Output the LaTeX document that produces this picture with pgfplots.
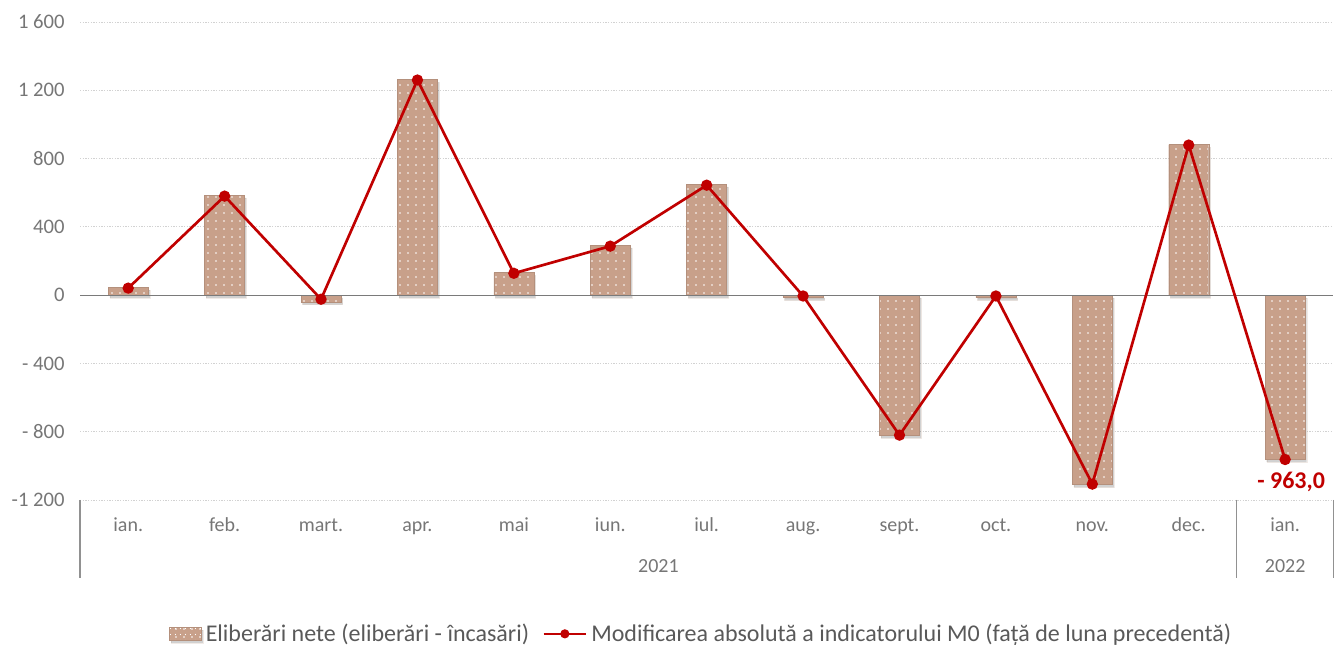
\documentclass[border=0pt]{standalone}
\usepackage{pgfplots}
\pgfplotsset{compat=1.18}
\usepackage{fontspec}
\setmainfont{Carlito}
\usetikzlibrary{patterns.meta,shadows}
\definecolor{barc}{RGB}{200,160,138}
\definecolor{linec}{RGB}{192,0,0}
\definecolor{tickc}{RGB}{118,118,118}
\definecolor{legc}{RGB}{89,89,89}
\definecolor{gridc}{RGB}{210,210,210}
\begin{document}
\begin{tikzpicture}[x=1pt,y=1pt]
\useasboundingbox (0,0) rectangle (1001.25,483.75);
\begin{axis}[
  at={(60pt,108.75pt)}, anchor=south west,
  scale only axis, width=940pt, height=358.5pt,
  xmin=-0.5, xmax=12.5, ymin=-1200, ymax=1600,
  axis line style={draw=none},
  tick style={draw=none},
  ytick={-1200,-800,-400,0,400,800,1200,1600},
  yticklabels={-1 200,- 800,- 400,0,400,800,1 200,1 600},
  xtick={0,1,2,3,4,5,6,7,8,9,10,11,12},
  xticklabels={ian.,feb.,mart.,apr.,mai,iun.,iul.,aug.,sept.,oct.,nov.,dec.,ian.},
  ymajorgrids,
  grid style={gridc, dash pattern=on 1pt off 1pt, line width=0.6pt},
  xticklabel style={font=\fontsize{15}{17}\selectfont, text=tickc, yshift=-9pt,
    text height=11pt, text depth=3pt},
  yticklabel style={font=\fontsize{15.5}{17}\selectfont, text=tickc, xshift=-8pt},
  clip=false,
  legend style={at={(0.496,-0.28)}, anchor=center, draw=none, fill=none,
    legend columns=2, font=\fontsize{18}{20}\selectfont, text=legc,
    /tikz/every even column/.append style={column sep=8pt},
    /tikz/every odd column/.append style={column sep=1pt}},
  legend cell align=left,
]
\addplot[ybar, bar width=30pt, draw=barc!90!black, line width=0.3pt, fill=barc,
  postaction={pattern={Dots[distance=6pt, radius=0.6pt]}, pattern color=white},
  drop shadow={shadow xshift=1.2pt, shadow yshift=-2pt, opacity=0.18, fill=black},
  legend image code/.code={\draw[barc!90!black, line width=0.3pt, fill=barc,
     postaction={pattern={Dots[distance=4pt, radius=0.5pt]}, pattern color=white}]
     (0pt,-5pt) rectangle (24pt,5pt);}]
coordinates {(0,45) (1,585) (2,-40) (3,1262) (4,132) (5,292) (6,650) (7,-15) (8,-822) (9,-15) (10,-1110) (11,882) (12,-963)};
\addlegendentry{Eliberări nete (eliberări - încasări)}
\draw[legc!80, line width=0.8pt] (axis cs:-0.5,0) -- (axis cs:12.5,0);
\addplot[linec, line width=2pt, mark=*, mark size=3.2pt, mark options={fill=linec, draw=linec},
  legend image code/.code={\draw[linec, line width=1.6pt, mark=*, mark size=2.6pt, mark options={fill=linec, draw=linec}, mark repeat=2, mark phase=2] plot coordinates {(0pt,0pt) (16pt,0pt) (32pt,0pt)};}]
coordinates {(0,41) (1,580) (2,-24) (3,1260) (4,128) (5,287) (6,644) (7,-5) (8,-820) (9,-5) (10,-1107) (11,879) (12,-963)};
\addlegendentry{Modificarea absolută a indicatorului M0 (față de luna precedentă)}
\draw[tickc!80, line width=0.8pt] (axis cs:-0.5,-1200) -- (axis cs:-0.5,-1657);
\draw[tickc!80, line width=0.8pt] (axis cs:11.5,-1200) -- (axis cs:11.5,-1657);
\draw[tickc!80, line width=0.8pt] (axis cs:12.5,-1200) -- (axis cs:12.5,-1657);
\node[font=\fontsize{15}{17}\selectfont, text=tickc] at (axis cs:5.5,-1200) [yshift=-49.5pt] {2021};
\node[font=\fontsize{15}{17}\selectfont, text=tickc] at (axis cs:12,-1200) [yshift=-49.5pt] {2022};
\node[font=\bfseries\fontsize{18}{20}\selectfont, text=linec] at (axis cs:12,-1095) [xshift=4.5pt] {- 963,0};
\end{axis}
\end{tikzpicture}
\end{document}
